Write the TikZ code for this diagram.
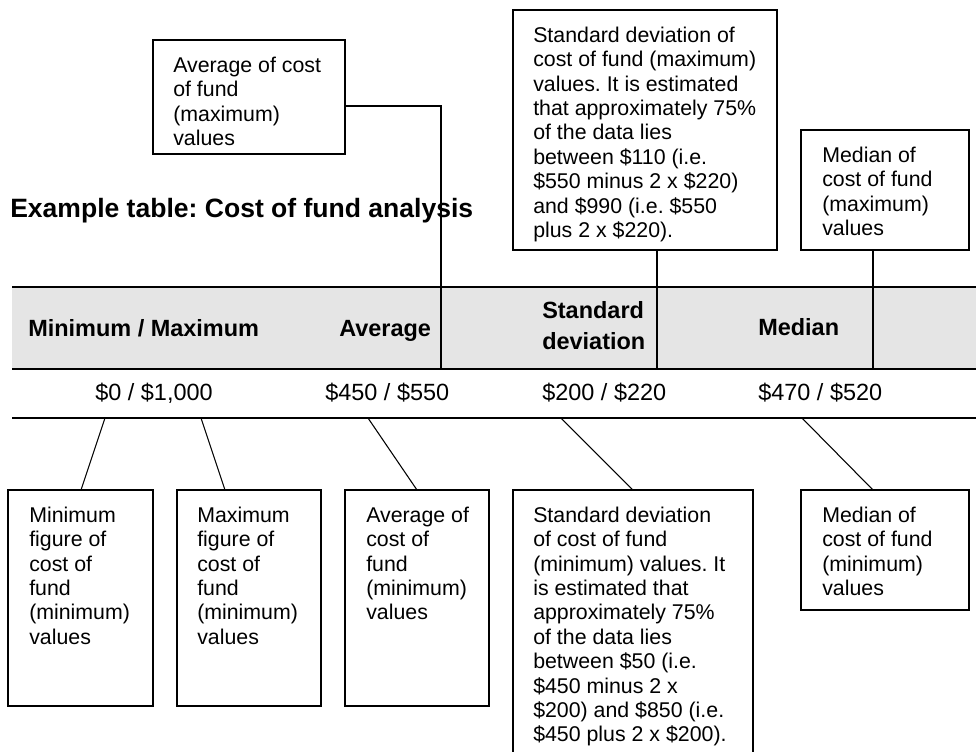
\documentclass[tikz,border=0pt]{standalone}
\usepackage{fontspec}
\setmainfont{Liberation Sans}
\usetikzlibrary{calc}
\definecolor{bandgray}{HTML}{E5E5E5}
\frenchspacing
\begin{document}
\frenchspacing
\begin{tikzpicture}[x=0.75pt,y=-0.75pt,
  boxtext/.style={anchor=north west, inner sep=0pt, align=left, font=\fontsize{16}{18.3}\selectfont},
  callout/.style={draw, line width=1pt, inner sep=0pt, outer sep=0pt, anchor=north west},
  conn/.style={line width=0.8pt},
  tablerule/.style={line width=1.5pt},
  hdr/.style={inner sep=0pt, align=left, font=\bfseries\fontsize{17.6}{23.25}\selectfont},
  val/.style={inner sep=0pt, anchor=base west, font=\fontsize{17.6}{21}\selectfont},
  ttl/.style={inner sep=0pt, anchor=base west, font=\bfseries\fontsize{19.9}{24}\selectfont}]

\useasboundingbox (0,0) rectangle (976,751);
\clip (0,0) rectangle (976,751);

% title
\node[ttl] (title) at (10,217) {Example table: Cost of fund analysis};

% header band and rules
\fill[bandgray] (12,287) rectangle (976,369);
\coordinate (bandTL) at (12,287);
\coordinate (bandTR) at (976,287);
\coordinate (bandBL) at (12,369);
\coordinate (bandBR) at (976,369);
\coordinate (valL) at (12,418);
\coordinate (valR) at (976,418);
\draw[tablerule] (bandTL) -- (bandTR);
\draw[tablerule] (bandBL) -- (bandBR);
\draw[tablerule] (valL) -- (valR);

% header texts
\node[hdr, anchor=base west] (hminmax) at (28,336) {Minimum / Maximum};
\node[hdr, anchor=base west] (havg) at (339,336) {Average};
\node[hdr, anchor=north west] (hstd) at (542,297) {\strut Standard\\deviation};
\node[hdr, anchor=base west] (hmed) at (758,335) {Median};

% values
\node[val] (vminmax) at (95,400) {\$0 / \$1,000};
\node[val] (vavg) at (325,400) {\$450 / \$550};
\node[val] (vstd) at (542,400) {\$200 / \$220};
\node[val] (vmed) at (758,400) {\$470 / \$520};

% top callouts
\node[callout, minimum width=144pt, minimum height=85.5pt] (amax) at (153,40) {};
\node[boxtext] (amaxt) at ($(amax.north west)+(20,15)$) {\strut Average of cost\\of fund\\(maximum)\\values};

\node[callout, minimum width=198pt, minimum height=180pt] (smax) at (513,10) {};
\node[boxtext] (smaxt) at ($(smax.north west)+(20,15)$) {\strut Standard deviation of\\cost of fund (maximum)\\values. It is estimated\\that approximately 75\%\\of the data lies\\between \$110 (i.e.\\\$550 minus 2 x \$220)\\and \$990 (i.e. \$550\\plus 2 x \$220).};

\node[callout, minimum width=126pt, minimum height=90pt] (mmax) at (801,130) {};
\node[boxtext] (mmaxt) at ($(mmax.north west)+(21,15)$) {\strut Median of\\cost of fund\\(maximum)\\values};

% top connectors
\coordinate (amaxfoot) at (441,369);
\coordinate (smaxfoot) at (657,369);
\coordinate (mmaxfoot) at (873,369);
\draw[conn] ($(amax.north east)+(0,66)$) -| (amaxfoot);
\draw[conn] (smaxfoot |- smax.south) -- (smaxfoot);
\draw[conn] (mmaxfoot |- mmax.south) -- (mmaxfoot);

% bottom callouts
\node[callout, minimum width=108.75pt, minimum height=162pt] (bmin) at (8,490) {};
\node[boxtext] (bmint) at ($(bmin.north west)+(21,15)$) {\strut Minimum\\figure of\\cost of\\fund\\(minimum)\\values};

\node[callout, minimum width=108pt, minimum height=162pt] (bmaxb) at (177,490) {};
\node[boxtext] (bmaxt) at ($(bmaxb.north west)+(20,15)$) {\strut Maximum\\figure of\\cost of\\fund\\(minimum)\\values};

\node[callout, minimum width=108pt, minimum height=162pt] (bavg) at (345,490) {};
\node[boxtext] (bavgt) at ($(bavg.north west)+(21,15)$) {\strut Average of\\cost of\\fund\\(minimum)\\values};

\node[callout, minimum width=180pt, minimum height=202.5pt] (bstd) at (513,490) {};
\node[boxtext] (bstdt) at ($(bstd.north west)+(20,15)$) {\strut Standard deviation\\of cost of fund\\(minimum) values. It\\is estimated that\\approximately 75\%\\of the data lies\\between \$50 (i.e.\\\$450 minus 2 x\\\$200) and \$850 (i.e.\\\$450 plus 2 x \$200).};

\node[callout, minimum width=126pt, minimum height=90pt] (bmed) at (801,490) {};
\node[boxtext] (bmedt) at ($(bmed.north west)+(21,15)$) {\strut Median of\\cost of fund\\(minimum)\\values};

% bottom connectors
\coordinate (c1) at (105,418);
\coordinate (c2) at (201,418);
\coordinate (c3) at (368,418);
\coordinate (c4) at (561,418);
\coordinate (c5) at (802,418);
\draw[conn] (c1) -- ($(bmin.north west)+(73,0)$);
\draw[conn] (c2) -- ($(bmaxb.north west)+(48,0)$);
\draw[conn] (c3) -- ($(bavg.north west)+(72,0)$);
\draw[conn] (c4) -- (bstd.north);
\draw[conn] (c5) -- ($(bmed.north west)+(72,0)$);
\end{tikzpicture}
\end{document}
